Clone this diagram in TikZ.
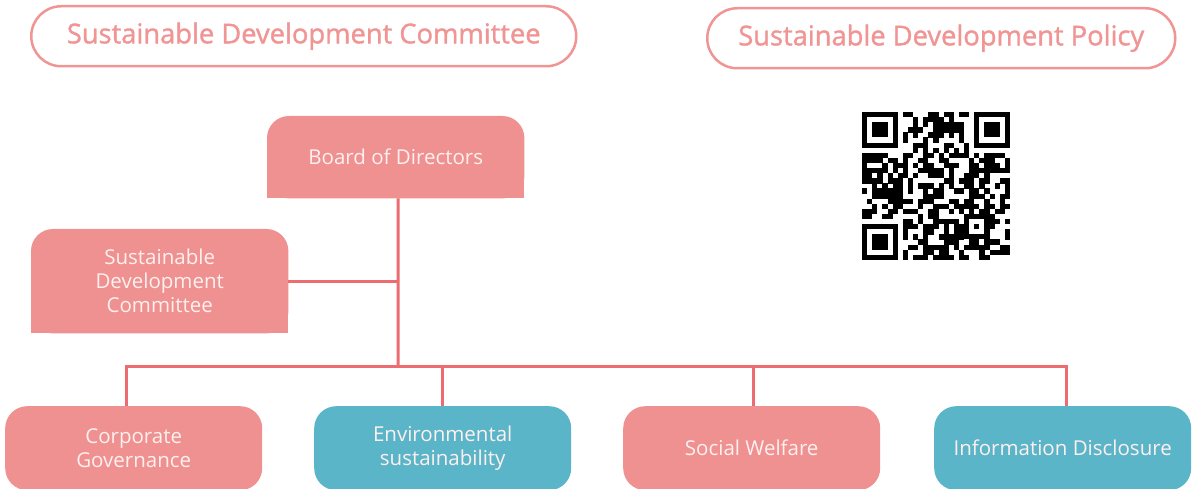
\documentclass[tikz,border=0pt]{standalone}
\usepackage{fontspec}
\setmainfont{Open Sans}
\newfontfamily\headfont{Open Sans}[FakeBold=1.3]
\usetikzlibrary{backgrounds}
\definecolor{pinkfill}{HTML}{EF9190}
\definecolor{tealfill}{HTML}{5BB5C9}
\definecolor{linered}{HTML}{EC6C6F}
\definecolor{pillpink}{HTML}{F09494}
\definecolor{boxtext}{HTML}{FDF0EF}
\tikzset{
  pill/.style={draw=pillpink, line width=2.5, rounded corners=30, text=pillpink,
    font=\headfont\fontsize{27.3}{30}\selectfont, anchor=north west, inner sep=0},
  topbox/.style={anchor=north west, minimum width=257, inner sep=0, text=boxtext,
    align=center, font=\fontsize{20.5}{24}\selectfont},
  botbox/.style={anchor=north west, minimum width=257, minimum height=84, inner sep=0,
    rounded corners=22, text=boxtext, align=center, font=\fontsize{20.5}{24}\selectfont},
  conn/.style={draw=linered, line width=3},
}
\newcommand{\toprounded}[2]{%
  \begin{scope}[on background layer]
    \fill[#2, rounded corners=22] (#1.south west) rectangle (#1.north east);
    \fill[#2] (#1.south west) rectangle (#1.east);
  \end{scope}}
\begin{document}
\begin{tikzpicture}[x=1pt,y=-1pt]
\useasboundingbox (0,0) rectangle (1192,489);
\clip (0,0) rectangle (1192,489);
% header pills
\node[pill, minimum width=545, minimum height=60] (p1) at (30,5) {Sustainable Development Committee};
\node[pill, minimum width=468, minimum height=60] (p2) at (706,7) {Sustainable Development Policy};
% board and committee
\node[topbox, minimum height=82] (board) at (267,116) {Board of Directors};
\toprounded{board}{pinkfill}
\node[topbox, minimum height=104] (sdc) at (31,229) {Sustainable\\Development\\Committee};
\toprounded{sdc}{pinkfill}
% bottom boxes
\node[botbox, fill=pinkfill] (b1) at (5,406) {Corporate\\Governance};
\node[botbox, fill=tealfill] (b2) at (314,406) {Environmental\\sustainability};
\node[botbox, fill=pinkfill] (b3) at (623,406) {Social Welfare};
\node[botbox, fill=tealfill] (b4) at (934,406) {Information Disclosure};
% connectors
\coordinate (hub) at (398,366);
\draw[conn] ([xshift=2.5]board.south) -- (hub);
\draw[conn] (sdc.east) -- (sdc.east -| hub);
\draw[conn] ([xshift=-7.5]b1.north) |- (hub) -| ([xshift=3.5]b4.north);
\draw[conn] (b2.north) -- (b2.north |- hub);
\draw[conn] ([xshift=1.5]b3.north) -- ([xshift=1.5]b3.north |- hub);
% QR code (pseudo)
\begin{scope}[shift={(862,112)}, x=5.1pt, y=-5.1pt]
  \pgfmathsetseed{2718}
  \foreach \i in {0,...,28}{
    \foreach \j in {0,...,28}{
      \pgfmathrandominteger{\r}{0}{99}
      \pgfmathtruncatemacro{\skip}{((\i<8)&&(\j<8)) || ((\i>20)&&(\j<8)) || ((\i<8)&&(\j>20)) || ((\i>19)&&(\i<25)&&(\j>19)&&(\j<25)) ? 1 : 0}
      \ifnum\skip=0 \ifnum\r<56
        \fill[black] (\i,\j) rectangle ++(1.02,1.02);
      \fi\fi
    }
  }
  \foreach \ox/\oy in {0/0, 22/0, 0/22}{
    \fill[black] (\ox,\oy) rectangle ++(7,7);
    \fill[white] (\ox+1,\oy+1) rectangle ++(5,5);
    \fill[black] (\ox+2,\oy+2) rectangle ++(3,3);
  }
  \fill[black] (20,20) rectangle ++(5,5);
  \fill[white] (21,21) rectangle ++(3,3);
  \fill[black] (22,22) rectangle ++(1,1);
\end{scope}
\end{tikzpicture}
\end{document}
